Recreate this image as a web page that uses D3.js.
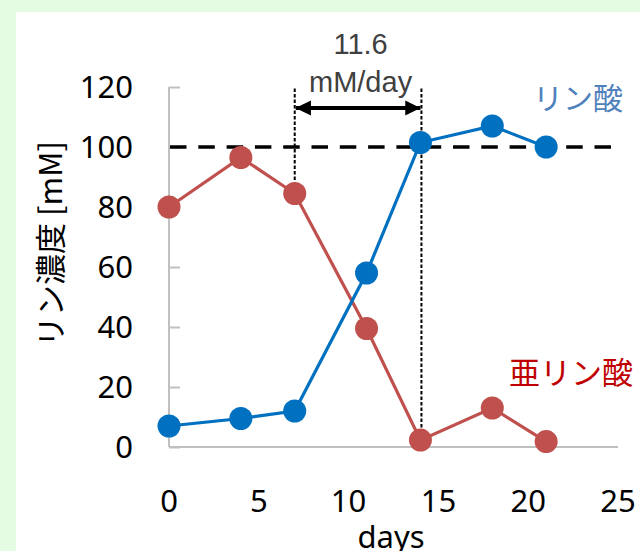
<!DOCTYPE html>
<html>
<head>
<meta charset="utf-8">
<script src="https://cdn.jsdelivr.net/npm/d3@7"></script>
<style>
  html, body { margin: 0; padding: 0; background: #e4fde2; }
  svg { display: block; }
</style>
</head>
<body>
<svg id="chart" width="640" height="551"></svg>
<script>
// ---- data ----
const days = [0, 4, 7, 11, 14, 18, 21];
const phosphate = [7, 9.5, 12, 58, 101.5, 107, 100];     // リン酸
const phosphite = [80, 96.5, 84.5, 39.5, 2.3, 13, 1.8];    // 亜リン酸
const xTicks = [0, 5, 10, 15, 20, 25];
const yTicks = [0, 20, 40, 60, 80, 100, 120];
const seriesNames = ["リン酸", "亜リン酸"];
const targetLevel = 100;
const bracketDays = [7, 14];
const bracketLabel = ["11.6", "mM/day"];
const xTitle = "days";
const yTitle = "リン濃度 [mM]";

const svg = d3.select("#chart");
svg.append("rect").attr("x", 0).attr("y", 0).attr("width", 640).attr("height", 551).attr("fill", "#e4fde2");
svg.append("rect").attr("x", 16).attr("y", 12).attr("width", 624).attr("height", 539).attr("fill", "#ffffff");

const x = d3.scaleLinear().domain([0, 25]).range([169, 618]);
const y = d3.scaleLinear().domain([0, 120]).range([447, 87]);

const tickFont = "'Noto Sans', 'Liberation Sans', sans-serif";
const cjkFont = "'Noto Sans CJK JP', 'Noto Sans', sans-serif";

// y axis
const yAxis = svg.append("g").attr("transform", `translate(${x(0)},0)`)
  .call(d3.axisRight(y).tickValues(yTicks).tickSize(11).tickFormat(""));
yAxis.select(".domain").attr("stroke", "#c0c0c0").attr("stroke-width", 2).attr("d", `M0,${y(120)}V${y(0)}`);
yAxis.selectAll(".tick line").attr("stroke", "#c0c0c0").attr("stroke-width", 2);

svg.append("g").selectAll("text").data(yTicks).join("text")
  .attr("x", 133).attr("y", d => y(d)).attr("dy", "0.36em")
  .attr("text-anchor", "end").attr("font-family", tickFont).attr("font-size", 31).attr("fill", "#000")
  .text(d => d);

// x axis
const xAxis = svg.append("g").attr("transform", `translate(0,${y(0)})`)
  .call(d3.axisBottom(x).tickValues(xTicks).tickSize(0).tickFormat(""));
xAxis.select(".domain").attr("stroke", "#c0c0c0").attr("stroke-width", 2).attr("d", `M${x(0)},0H${x(25)}`);

svg.append("g").selectAll("text").data(xTicks).join("text")
  .attr("x", d => x(d)).attr("y", 512)
  .attr("text-anchor", "middle").attr("font-family", tickFont).attr("font-size", 31).attr("fill", "#000")
  .text(d => d);

svg.append("text").attr("x", 391).attr("y", 548).attr("text-anchor", "middle")
  .attr("font-family", tickFont).attr("font-size", 31).attr("fill", "#000").text(xTitle);

svg.append("text").attr("transform", `translate(62,244) rotate(-90)`).attr("text-anchor", "middle")
  .attr("font-family", cjkFont).attr("font-size", 31).attr("fill", "#000").text(yTitle);

// target dashed line
svg.append("line").attr("x1", x(0) + 1).attr("x2", x(25) + 2).attr("y1", y(targetLevel)).attr("y2", y(targetLevel))
  .attr("stroke", "#000").attr("stroke-width", 3.5).attr("stroke-dasharray", "16.5,11.8");

// bracket
const defs = svg.append("defs");
["start", "end"].forEach(k => {
  defs.append("marker").attr("id", "arrow-" + k)
    .attr("viewBox", "0 0 10 10").attr("refX", k === "end" ? 10 : 0).attr("refY", 5)
    .attr("markerWidth", 4).attr("markerHeight", 4).attr("markerUnits", "strokeWidth")
    .attr("orient", "auto")
    .append("path").attr("d", k === "end" ? "M0,0L10,5L0,10Z" : "M10,0L0,5L10,10Z").attr("fill", "#000");
});
const bracketY = y(113);
svg.append("line").attr("x1", x(bracketDays[0])).attr("x2", x(bracketDays[0])).attr("y1", y(119.5)).attr("y2", y(88))
  .attr("stroke", "#000").attr("stroke-width", 2).attr("stroke-dasharray", "3.5,2");
svg.append("line").attr("x1", x(bracketDays[1]) + 1).attr("x2", x(bracketDays[1]) + 1).attr("y1", y(119.5)).attr("y2", y(5.5))
  .attr("stroke", "#000").attr("stroke-width", 2).attr("stroke-dasharray", "3.5,2");
svg.append("line").attr("x1", x(bracketDays[0]) + 1).attr("x2", x(bracketDays[1])).attr("y1", bracketY).attr("y2", bracketY)
  .attr("stroke", "#000").attr("stroke-width", 3.8)
  .attr("marker-start", "url(#arrow-start)").attr("marker-end", "url(#arrow-end)");
const midX = (x(bracketDays[0]) + x(bracketDays[1])) / 2 + 3;
svg.append("text").attr("x", midX).attr("y", 54).attr("text-anchor", "middle")
  .attr("font-family", "'Liberation Sans', Arial, sans-serif").attr("font-size", 29).attr("fill", "#404040").text(bracketLabel[0]);
svg.append("text").attr("x", midX).attr("y", 92).attr("text-anchor", "middle")
  .attr("font-family", "'Liberation Sans', Arial, sans-serif").attr("font-size", 29).attr("fill", "#404040").text(bracketLabel[1]);

// series
const line = d3.line().x(d => x(d[0])).y(d => y(d[1]));
const series = [
  { name: seriesNames[1], values: phosphite, color: "#c0504d" },
  { name: seriesNames[0], values: phosphate, color: "#0070c0" }
];
series.forEach(s => {
  const pts = days.map((d, i) => [d, s.values[i]]);
  svg.append("path").datum(pts).attr("d", line).attr("fill", "none").attr("stroke", s.color).attr("stroke-width", 3.2);
  svg.append("g").selectAll("circle").data(pts).join("circle")
    .attr("cx", d => x(d[0])).attr("cy", d => y(d[1])).attr("r", 11.5).attr("fill", s.color);
});

// labels
svg.append("text").attr("x", 578).attr("y", 109).attr("text-anchor", "middle")
  .attr("font-family", cjkFont).attr("font-size", 30).attr("fill", "#4f81bd").text(seriesNames[0]);
svg.append("text").attr("x", 571).attr("y", 384).attr("text-anchor", "middle")
  .attr("font-family", cjkFont).attr("font-size", 31).attr("fill", "#c00000").text(seriesNames[1]);
</script>
</body>
</html>
